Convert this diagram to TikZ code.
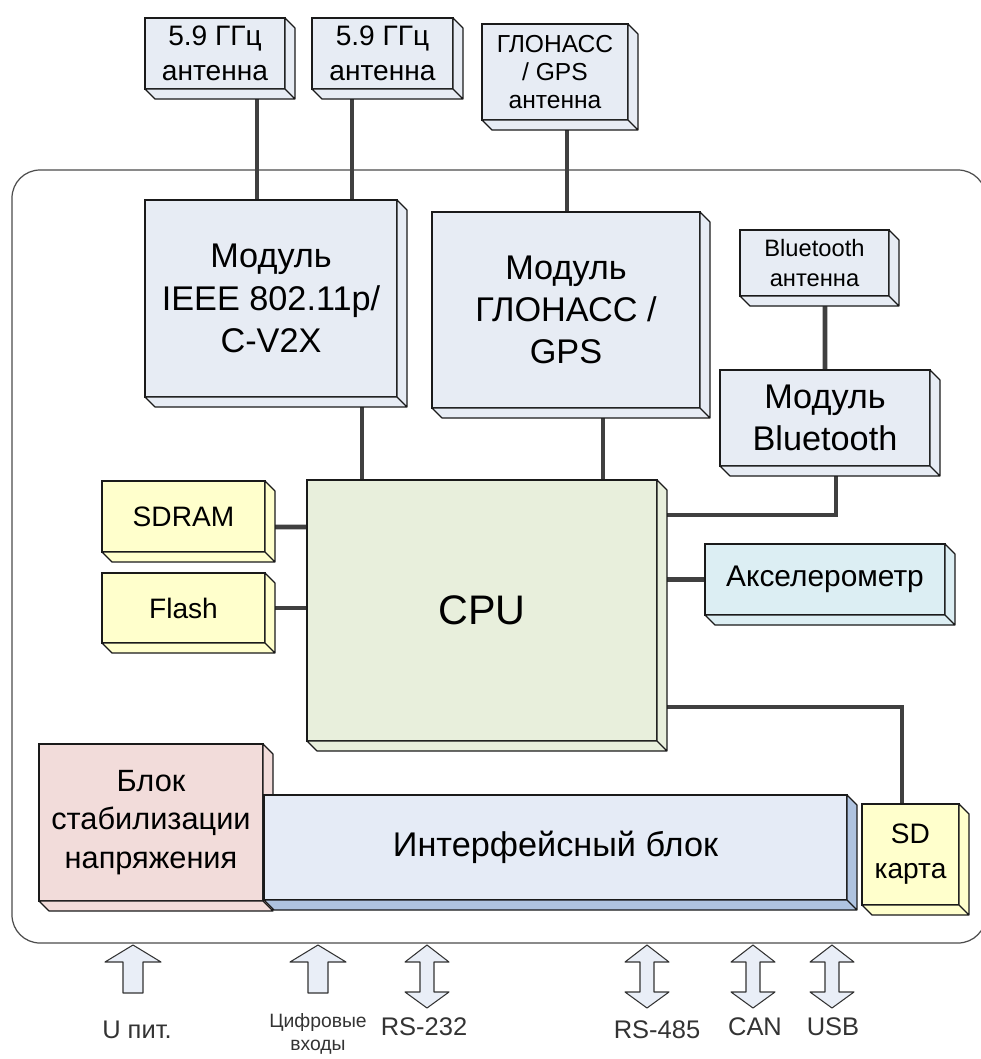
\documentclass[tikz,border=0pt]{standalone}
\usepackage{fontspec}
\setmainfont{Liberation Sans}
\usetikzlibrary{calc,backgrounds}

\definecolor{boxline}{HTML}{1A1A1A}
\definecolor{modblue}{HTML}{E7ECF4}
\definecolor{memyel}{HTML}{FFFFCC}
\definecolor{cpugreen}{HTML}{E8EFDC}
\definecolor{accblue}{HTML}{DCEEF3}
\definecolor{stabpink}{HTML}{F2DCDA}
\definecolor{ifblue}{HTML}{E5EBF6}
\definecolor{ifside}{HTML}{AFC3E0}
\definecolor{arrowfill}{HTML}{E9EEF7}
\definecolor{wirec}{HTML}{404040}

% right and bottom faces of a block, 10px deep
\newcommand\sideface[2]{%
  \draw[face, fill=#2] (#1.north east) -- ++(10,10) -- ($(#1.south east)+(10,10)$)
    -- ($(#1.south west)+(10,10)$) -- (#1.south west) -- (#1.south east) -- cycle
    (#1.south east) -- ++(10,10);}

\begin{document}
\begin{tikzpicture}[x=0.02cm, y=-0.02cm]
  \tikzstyle{box}=[draw=boxline, line width=0.7pt, inner sep=0pt, outer sep=0pt, align=center, text=black]
  \tikzstyle{face}=[draw=boxline, line width=0.7pt, line join=round]
  \tikzstyle{ant}=[box, fill=modblue, font=\fontsize{16}{20}\selectfont]
  \tikzstyle{module}=[box, fill=modblue, font=\fontsize{19.5}{24}\selectfont]
  \tikzstyle{mem}=[box, fill=memyel, font=\fontsize{16}{20}\selectfont]
  \tikzstyle{wire}=[draw=wirec, line width=2.8pt]
  \tikzstyle{frame}=[draw=black!70, line width=0.7pt, rounded corners=0.56cm]
  \tikzstyle{blockarrow}=[draw=black!80, line width=0.6pt, fill=arrowfill, line join=round]
  \tikzstyle{port}=[text=black!80, font=\fontsize{14.5}{16}\selectfont]

  \useasboundingbox (0,0) rectangle (981,1059);

  % antennas
  \node[ant, minimum width=2.8cm, minimum height=1.42cm] (ant1) at (215,53.5) {5.9 ГГц\\антенна};
  \sideface{ant1}{modblue}
  \node[ant, minimum width=2.82cm, minimum height=1.42cm] (ant2) at (382.5,53.5) {5.9 ГГц\\антенна};
  \sideface{ant2}{modblue}
  \node[ant, minimum width=2.92cm, minimum height=1.92cm, font=\fontsize{14}{16}\selectfont] (antg) at (555,72) {ГЛОНАСС\\/ GPS\\антенна};
  \sideface{antg}{modblue}
  \node[ant, minimum width=2.98cm, minimum height=1.32cm, font=\fontsize{13.5}{17}\selectfont] (antbt) at (814.5,263) {Bluetooth\\антенна};
  \sideface{antbt}{modblue}

  % modules
  \node[module, minimum width=5.04cm, minimum height=3.94cm] (ieee) at (271,298.5) {Модуль\\IEEE 802.11p/\\C-V2X};
  \sideface{ieee}{modblue}
  \node[module, minimum width=5.36cm, minimum height=3.92cm] (glon) at (566,310) {Модуль\\ГЛОНАСС /\\GPS};
  \sideface{glon}{modblue}
  \node[module, minimum width=4.2cm, minimum height=1.92cm] (btm) at (825,418) {Модуль\\Bluetooth};
  \sideface{btm}{modblue}

  \node[box, fill=cpugreen, minimum width=7cm, minimum height=5.22cm, font=\fontsize{23.5}{26}\selectfont] (cpu) at (482,610.5) {CPU};
  \sideface{cpu}{cpugreen}
  \node[mem, minimum width=3.26cm, minimum height=1.42cm] (sdram) at (183.5,516.5) {SDRAM};
  \sideface{sdram}{memyel}
  \node[mem, minimum width=3.26cm, minimum height=1.4cm] (flash) at (183.5,608) {Flash};
  \sideface{flash}{memyel}
  \node[box, fill=accblue, minimum width=4.8cm, minimum height=1.42cm, font=\fontsize{17}{20}\selectfont] (accel) at (825,579.5) {Акселерометр};
  \sideface{accel}{accblue}

  % power and interface
  \node[module, fill=stabpink, minimum width=4.48cm, minimum height=3.14cm, font=\fontsize{17.5}{22}\selectfont] (stab) at (151,822.5) {Блок\\стабилизации\\напряжения};
  \sideface{stab}{stabpink}
  \node[module, fill=ifblue, minimum width=11.66cm, minimum height=2.1cm] (iface) at (555.5,847.5) {Интерфейсный блок};
  \sideface{iface}{ifside}
  \node[mem, minimum width=1.94cm, minimum height=2.02cm] (sd) at (910.5,854.5) {SD\\карта};
  \sideface{sd}{memyel}

  \begin{scope}[on background layer]
    \draw[frame] (12,170) rectangle (986,943);

    \path[wire] ($(ant1.south)+(42,0)$) -- ($(ieee.north)+(-14,0)$);
    \path[wire] ($(ant2.south)+(-30.5,0)$) -- ($(ieee.north)+(81,0)$);
    \path[wire] ($(antg.south)+(12,0)$) -- ($(glon.north)+(1,0)$);
    \path[wire] ($(antbt.south)+(10.5,0)$) -- (btm.north);
    \path[wire] ($(ieee.south)+(91,0)$) -- ($(cpu.north)+(-120,0)$);
    \path[wire] ($(glon.south)+(37,0)$) -- ($(cpu.north)+(121,0)$);
    \path[wire] ($(btm.south)+(11,0)$) |- ($(cpu.east)+(0,-95.5)$);
    \path[wire] (cpu.east |- accel.west) -- (accel.west);
    \path[wire] ($(sdram.east)+(0,10.5)$) -- ($(cpu.west)+(0,-83.5)$);
    \path[wire] (flash.east) -- (flash.east -| cpu.west);
    \path[wire] ($(cpu.east)+(0,96.5)$) -| ($(sd.north)+(-8.5,0)$);
  \end{scope}

  % ports
  \foreach \x in {133,318}
    \draw[blockarrow] (\x,945) -- (\x+28,962) -- (\x+10,962) -- (\x+10,993)
      -- (\x-10,993) -- (\x-10,962) -- (\x-28,962) -- cycle;
  \foreach \x in {427,647,753,832}
    \draw[blockarrow] (\x,945) -- (\x+22,962) -- (\x+7,962) -- (\x+7,992) -- (\x+22,992)
      -- (\x,1008) -- (\x-22,992) -- (\x-7,992) -- (\x-7,962) -- (\x-22,962) -- cycle;

  \node[port] (lbu)   at (137,1030) {U пит.};
  \node[port, align=center, font=\fontsize{11}{13}\selectfont] (lbdin) at (318,1034) {Цифровые\\входы};
  \node[port] (lb232) at (424,1027) {RS-232};
  \node[port] (lb485) at (657,1030) {RS-485};
  \node[port] (lbcan) at (755,1027) {CAN};
  \node[port] (lbusb) at (833,1027) {USB};
\end{tikzpicture}
\end{document}
